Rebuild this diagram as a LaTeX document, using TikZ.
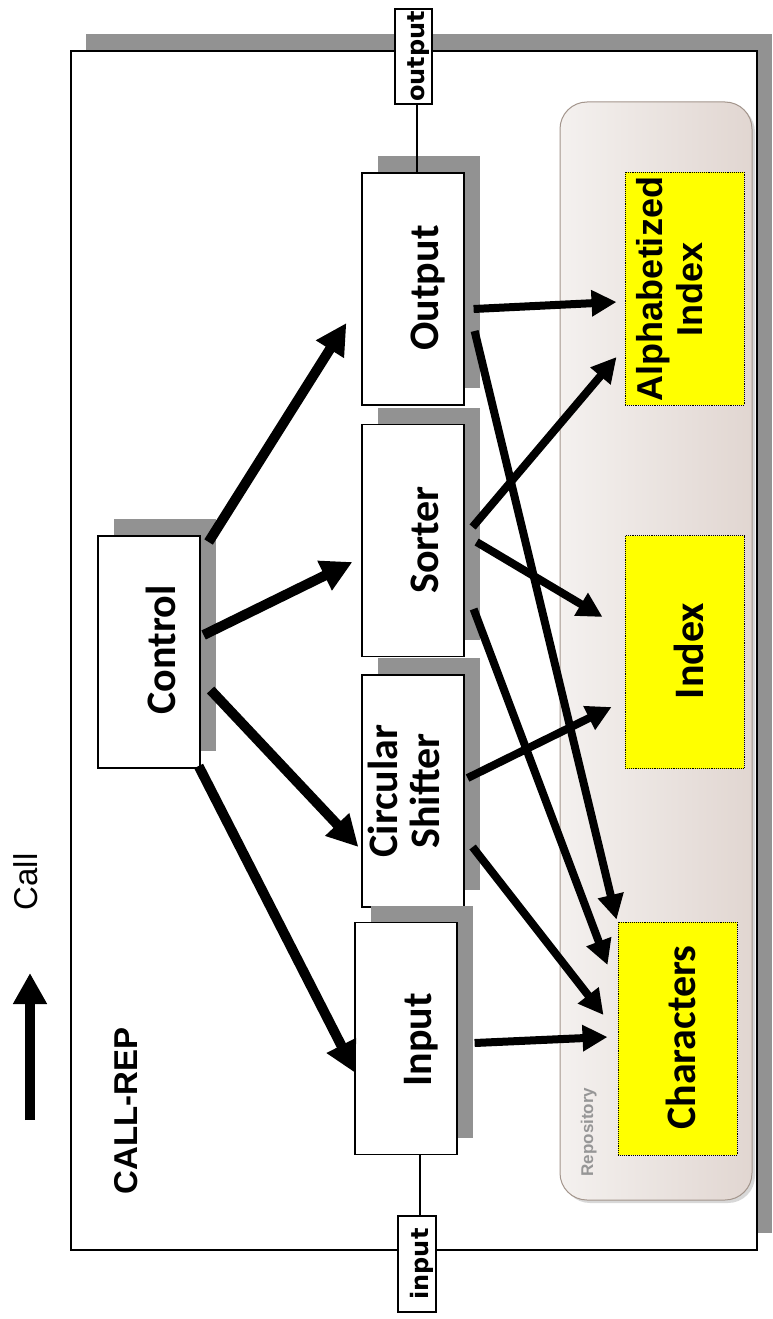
\documentclass[tikz,border=0pt]{standalone}
\usepackage{fontspec}
\setmainfont{Carlito}
\newfontfamily\arialf{Liberation Sans}
\newfontfamily\dejaf{DejaVu Sans}
\usetikzlibrary{arrows.meta,calc,shadows}
\definecolor{shgray}{RGB}{146,146,146}
\definecolor{repoL}{RGB}{244,241,239}
\definecolor{repoR}{RGB}{225,214,209}
\definecolor{repoB}{RGB}{163,149,140}
\definecolor{ylw}{RGB}{255,255,0}
\definecolor{repotxt}{RGB}{150,150,150}
\begin{document}
\begin{tikzpicture}[x=1pt,y=-1pt,
  box/.style={draw=black, line width=1.2pt, fill=white, minimum width=102pt, minimum height=232pt, inner sep=0pt,
    drop shadow={shadow xshift=16pt, shadow yshift=17pt, opacity=1, fill=shgray}},
  ybox/.style={draw=black, densely dotted, line width=0.9pt, fill=ylw, minimum width=119pt, minimum height=233pt, inner sep=0pt},
  lbl/.style={rotate=90, font=\fontsize{42}{42}\selectfont\bfseries, inner sep=0pt},
  portlbl/.style={draw=black, line width=1.2pt, fill=white, rotate=90, inner sep=0pt, font=\dejaf\bfseries\fontsize{24}{24}\selectfont},
  bigarrow/.style={line width=10pt, -{Triangle[length=31pt,width=31pt]}},
  smallarrow/.style={line width=8pt, -{Triangle[length=25pt,width=25pt]}}
]
\useasboundingbox (0,0) rectangle (772,1319);
\fill[white] (0,0) rectangle (772,1319);

% frame
\node[draw=black, line width=1.2pt, fill=white, minimum width=686pt, minimum height=1199pt, inner sep=0pt,
  drop shadow={shadow xshift=15pt, shadow yshift=17pt, opacity=1, fill=shgray}] (frame) at (414,650.5) {};

% repository
\node[draw=repoB, line width=1pt, rounded corners=27pt, left color=repoL, right color=repoR,
  minimum width=192pt, minimum height=1098pt, inner sep=0pt,
  drop shadow={shadow xshift=3pt, shadow yshift=-3pt, opacity=0.3}] (repo) at (656,651) {};

% yellow boxes
\node[ybox] (alph) at (684.5,288.5) {};
\node[ybox] (index) at (684.5,652) {};
\node[ybox] (chars) at (677.5,1038.5) {};

% component boxes
\node[box] (output) at (413,289) {};
\node[box] (sorter) at (413,540.5) {};
\node[box] (circ) at (413,791) {};
\node[box] (input) at (406,1038.5) {};
\node[box] (control) at (149,652) {};

% port labels
\node[portlbl, minimum width=95pt, minimum height=37pt] (outlbl) at (413.5,56.5) {\raisebox{-5pt}[\height][\depth]{output}};
\node[portlbl, minimum width=96pt, minimum height=38pt] (inlbl) at (417,1264) {\raisebox{-5pt}[\height][\depth]{input}};
\draw[line width=1.2pt] ([xshift=3.5pt]outlbl.west) -- ([xshift=3.5pt]outlbl.west |- output.north);
\draw[line width=1.2pt] ([xshift=3pt]inlbl.east) -- ([xshift=3pt]inlbl.east |- input.south);

% arrows from control
\draw[bigarrow] ([xshift=8pt,yshift=110pt]control.east) -- ([xshift=-15pt,yshift=-34pt]output.west);
\draw[bigarrow] ([xshift=3pt,yshift=17pt]control.east) -- ([xshift=-9pt,yshift=-21.5pt]sorter.west);
\draw[bigarrow] ([xshift=10pt,yshift=-38pt]control.east) -- ([xshift=-3pt,yshift=-56pt]circ.west);
\draw[bigarrow] ([xshift=-2pt,yshift=-114pt]control.east) -- ([xshift=1pt,yshift=-34.5pt]input.west);

% arrows to repository
\draw[smallarrow] ([xshift=9pt,yshift=-20pt]output.east) -- ([xshift=-8pt,yshift=-13.5pt]alph.west);
\draw[smallarrow] ([xshift=10pt,yshift=-42pt]output.east) -- ([xshift=-1pt,yshift=2pt]chars.north west);
\draw[smallarrow] ([xshift=8pt,yshift=13.5pt]sorter.east) -- ([xshift=-8pt,yshift=-68.5pt]alph.west);
\draw[smallarrow] ([xshift=12pt,yshift=-1.5pt]sorter.east) -- ([xshift=-22pt,yshift=35pt]index.west);
\draw[smallarrow] ([xshift=9pt,yshift=-68.5pt]sorter.east) -- ([xshift=-10pt,yshift=73.5pt]chars.west);
\draw[smallarrow] ([xshift=3pt,yshift=13pt]circ.east) -- ([xshift=-13pt,yshift=-55pt]index.west);
\draw[smallarrow] ([xshift=8pt,yshift=-56pt]circ.east) -- ([xshift=-14pt,yshift=23.5pt]chars.west);
\draw[smallarrow] ([xshift=17pt,yshift=-4.5pt]input.east) -- ([xshift=-10pt,yshift=1.5pt]chars.west);

% texts
\node[lbl, anchor=base] (outputT) at (438,288) {Output};
\node[lbl, anchor=base] (sorterT) at (438,540) {Sorter};
\node[lbl, align=center] (circT) at (404,791) {Circular\\Shifter};
\node[lbl, anchor=base] (controlT) at (175,650) {Control};
\node[lbl, anchor=base] (inputT) at (431,1040) {Input};
\node[lbl, anchor=base] (indexT) at (703,651) {Index};
\node[lbl, anchor=base] (charsT) at (695,1037.5) {Characters};
\node[rotate=90, inner sep=0pt, align=center, font=\arialf\bfseries\fontsize{36}{40}\selectfont] (alphT) at (670,289) {Alphabetized\\Index};
\node[rotate=90, anchor=base, inner sep=0pt, text=repotxt, font=\arialf\bfseries\fontsize{17}{17}\selectfont] (repoT) at (593,1132) {Repository};
\node[rotate=90, anchor=base, inner sep=0pt, font=\arialf\bfseries\fontsize{33}{33}\selectfont] (callrep) at (137,1111) {CALL-REP};
\node[rotate=90, anchor=base, inner sep=0pt, font=\arialf\fontsize{33}{33}\selectfont] (callT) at (37,882) {Call};

% call arrow
\coordinate (callA) at (30,1120);
\coordinate (callB) at (30,973);
\draw[line width=10pt, -{Triangle[length=31pt,width=32pt]}] (callA) -- (callB);
\end{tikzpicture}
\end{document}
